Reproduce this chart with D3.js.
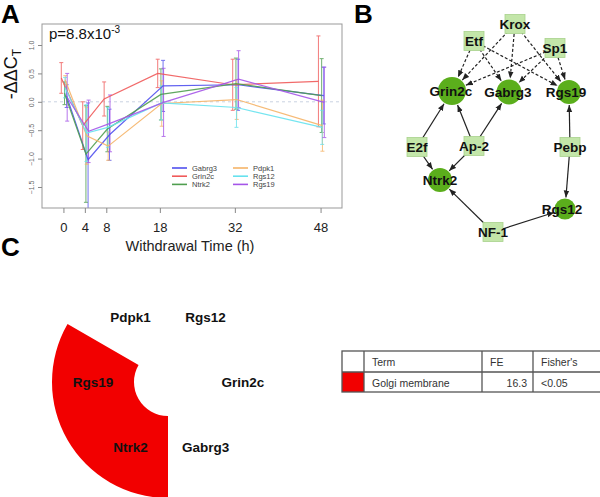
<!DOCTYPE html>
<html><head><meta charset="utf-8">
<script src="https://cdn.jsdelivr.net/npm/d3@7"></script>
<style>body{margin:0;background:#fff}svg{display:block;font-family:"Liberation Sans",Arial,sans-serif}</style>
</head><body><svg id="c" width="600" height="497"></svg>
<script>
// ---------- Panel A data ----------
const times = [0, 4, 8, 18, 32, 48];
const seriesNames = ["Gabrg3", "Grin2c", "Ntrk2", "Pdpk1", "Rgs12", "Rgs19"];
const gabrg3 = [0.10, -1.02, -0.58, 0.28, 0.30, 0.11];
const grin2c = [0.42, -0.42, 0.05, 0.50, 0.30, 0.36];
const ntrk2  = [0.15, -0.92, -0.48, 0.13, 0.32, 0.11];
const pdpk1  = [0.38, -0.60, -0.78, -0.03, 0.04, -0.42];
const rgs12  = [0.25, -0.55, -0.45, -0.02, -0.10, -0.45];
const rgs19  = [0.08, -0.52, -0.38, -0.01, 0.40, -0.01];
const errGabrg3 = [0.20, 1.00, 0.45, 0.45, 0.45, 0.50];
const errGrin2c = [0.27, 0.42, 0.30, 0.25, 0.45, 0.80];
const errNtrk2  = [0.20, 0.85, 0.40, 0.45, 0.45, 0.65];
const errPdpk1  = [0.08, 0.50, 0.25, 0.40, 0.35, 0.45];
const errRgs12  = [0.18, 0.50, 0.35, 0.30, 0.35, 0.30];
const errRgs19  = [0.42, 0.55, 0.50, 0.60, 0.50, 0.62];
const yTicks = [-1.5, -1.0, -0.5, 0.0, 0.5, 1.0];

// ---------- Panel B data ----------
const tfNodes = ["Krox", "Etf", "Sp1", "E2f", "Ap-2", "Pebp", "NF-1"];
const geneNodes = ["Grin2c", "Gabrg3", "Rgs19", "Ntrk2", "Rgs12"];
const dashedEdges = [["Krox","Grin2c"],["Krox","Gabrg3"],["Krox","Rgs19"],
  ["Etf","Grin2c"],["Etf","Gabrg3"],["Etf","Rgs19"],
  ["Sp1","Grin2c"],["Sp1","Gabrg3"],["Sp1","Rgs19"]];
const solidEdges = [["E2f","Grin2c"],["E2f","Ntrk2"],["Ap-2","Grin2c"],["Ap-2","Gabrg3"],
  ["Ap-2","Ntrk2"],["Pebp","Rgs19"],["Pebp","Rgs12"],["NF-1","Ntrk2"],["NF-1","Rgs12"]];

// ---------- Panel C data ----------
const pieGenes = ["Rgs12", "Grin2c", "Gabrg3", "Ntrk2", "Rgs19", "Pdpk1"];
const golgiGenes = ["Ntrk2", "Rgs19"];
const tableHeader = ["", "Term", "FE", "Fisher's"];
const tableRow = ["", "Golgi membrane", "16.3", "<0.05"];

// ---------- styles / layout ----------
const seriesValues = [gabrg3, grin2c, ntrk2, pdpk1, rgs12, rgs19];
const seriesErr = [errGabrg3, errGrin2c, errNtrk2, errPdpk1, errRgs12, errRgs19];
const colors = ["#5050ee", "#f05a5a", "#4f9e4f", "#f5b468", "#66e2ee", "#a555e8"];
const offsets = [0.6, -0.4, 0.2, 0.35, 0.3, 0.7];

const svg = d3.select("#c");
const font = "Liberation Sans, Arial, sans-serif";

// Panel letters
[["A",1,23],["B",354,23],["C",1,256]].forEach(([t,x,y]) =>
  svg.append("text").attr("x",x).attr("y",y).attr("font-size",26).attr("font-weight","bold").text(t));

// ===== Panel A =====
const L=42, R=342, T=24, B=208;
const x = d3.scaleLinear().domain([-4, 52]).range([L, R]);
const y = d3.scaleLinear().domain([-1.87, 1.37]).range([B, T]);
const gA = svg.append("g");
gA.append("clipPath").attr("id","clipA").append("rect").attr("x",L).attr("y",T).attr("width",R-L).attr("height",B-T);
gA.append("line").attr("x1",L).attr("x2",R).attr("y1",y(0)).attr("y2",y(0))
  .attr("stroke","#c9d2e2").attr("stroke-dasharray","3,3");
const plot = gA.append("g").attr("clip-path","url(#clipA)");
seriesNames.forEach((n,i) => {
  const pts = times.map((t,j)=>({t, v:seriesValues[i][j], e:seriesErr[i][j]}));
  const px = d => x(d.t + offsets[i]);
  const eg = plot.append("g").attr("stroke",colors[i]).attr("stroke-width",1).attr("opacity",0.8);
  pts.forEach(d => {
    eg.append("line").attr("x1",px(d)).attr("x2",px(d)).attr("y1",y(d.v-d.e)).attr("y2",y(d.v+d.e));
    [d.v-d.e, d.v+d.e].forEach(v => eg.append("line").attr("x1",px(d)-2).attr("x2",px(d)+2).attr("y1",y(v)).attr("y2",y(v)));
  });
});
seriesNames.forEach((n,i) => {
  const pts = times.map((t,j)=>({t, v:seriesValues[i][j]}));
  plot.append("path").datum(pts)
    .attr("d", d3.line().x(d=>x(d.t+offsets[i])).y(d=>y(d.v)))
    .attr("fill","none").attr("stroke",colors[i]).attr("stroke-width",1.2).attr("opacity",0.9);
});
gA.append("rect").attr("x",L).attr("y",T).attr("width",R-L).attr("height",B-T)
  .attr("fill","none").attr("stroke","#999");
// y axis
const yAx = gA.append("g").attr("transform",`translate(${L},0)`)
  .call(d3.axisLeft(y).tickValues(yTicks).tickSize(4).tickFormat(d3.format(".1f")));
yAx.select(".domain").remove();
yAx.selectAll("line").attr("stroke","#888");
yAx.selectAll(".tick text").attr("font-size",7).attr("fill","#666").attr("font-family",font)
  .attr("transform","rotate(-90)").attr("x",0).attr("y",-8).attr("dy","0").attr("text-anchor","middle");
// x axis
const xAx = gA.append("g").attr("transform",`translate(0,${B})`)
  .call(d3.axisBottom(x).tickValues(times).tickSize(5).tickFormat(d3.format("d")));
xAx.select(".domain").remove();
xAx.selectAll("line").attr("stroke","#888");
xAx.selectAll("text").attr("font-size",13).attr("fill","#222").attr("font-family",font).attr("y",15).attr("dy","0.71em");
// labels
gA.append("text").attr("x",190).attr("y",251).attr("text-anchor","middle").attr("font-size",14.5).attr("fill","#222")
  .text("Withdrawal Time (h)");
const yl = gA.append("text").attr("transform","translate(17,74) rotate(-90)").attr("text-anchor","middle")
  .attr("font-size",18).attr("fill","#111");
yl.append("tspan").text("-ΔΔC");
yl.append("tspan").attr("font-size",12).attr("dy",4).text("T");
const pl = gA.append("text").attr("x",49).attr("y",39).attr("font-size",15).attr("fill","#111");
pl.append("tspan").text("p=8.8x10");
pl.append("tspan").attr("font-size",10).attr("dy",-6).text("-3");
// legend
seriesNames.forEach((n,i) => {
  const col = Math.floor(i/3), row = i%3;
  const lx = 172 + col*61, ly = 168 + row*8.2;
  gA.append("line").attr("x1",lx).attr("x2",lx+15).attr("y1",ly).attr("y2",ly).attr("stroke",colors[i]).attr("stroke-width",1.6);
  gA.append("text").attr("x",lx+20).attr("y",ly+2.6).attr("font-size",7.5).attr("fill","#444").text(n);
});

// ===== Panel B =====
const pos = {"Krox":[515,24],"Etf":[474,41],"Sp1":[555,48],"Grin2c":[452,91],"Gabrg3":[509,92],
  "Rgs19":[569,92],"E2f":[417,147],"Ap-2":[474,146],"Pebp":[570,147],"Ntrk2":[440,180],
  "Rgs12":[565,209],"NF-1":[493,232]};
const rad = {"Grin2c":14,"Gabrg3":12.5,"Rgs19":12,"Ntrk2":12,"Rgs12":10.5};
const labOff = {"Grin2c":[-1,0],"Gabrg3":[-1,0],"Rgs19":[-3,0],"Ntrk2":[0,0],"Rgs12":[-3,0],
  "Krox":[0,0],"Etf":[0,0],"Sp1":[0,0],"E2f":[0,0],"Ap-2":[0,0],"Pebp":[0,0],"NF-1":[0,0]};
const gB = svg.append("g");
const defs = svg.append("defs");
defs.append("marker").attr("id","arr").attr("viewBox","0 0 10 10").attr("refX",10).attr("refY",5)
  .attr("markerWidth",7).attr("markerHeight",7).attr("markerUnits","userSpaceOnUse").attr("orient","auto")
  .append("path").attr("d","M0,1 L10,5 L0,9 Z").attr("fill","#222");
function edge(s,t,dashed){
  const [x1,y1]=pos[s],[x2,y2]=pos[t];
  const dx=x2-x1, dy=y2-y1, len=Math.hypot(dx,dy);
  const r = (rad[t]||0)+1;
  gB.append("line").attr("x1",x1).attr("y1",y1).attr("x2",x2-dx/len*r).attr("y2",y2-dy/len*r)
    .attr("stroke","#222").attr("stroke-width",1.2)
    .attr("stroke-dasharray",dashed?"3,2":null).attr("marker-end","url(#arr)");
}
dashedEdges.forEach(e=>edge(e[0],e[1],true));
solidEdges.forEach(e=>edge(e[0],e[1],false));
tfNodes.forEach(n=>{
  const [cx,cy]=pos[n];
  gB.append("rect").attr("x",cx-10).attr("y",cy-9.5).attr("width",20).attr("height",19)
    .attr("fill","#c3e6a9").attr("stroke","#a9d28c").attr("stroke-width",0.8);
});
geneNodes.forEach(n=>{
  const [cx,cy]=pos[n];
  gB.append("circle").attr("cx",cx).attr("cy",cy).attr("r",rad[n]).attr("fill","#5bae1c");
});
tfNodes.concat(geneNodes).forEach(n=>{
  const [cx,cy]=pos[n];
  gB.append("text").attr("x",cx+labOff[n][0]).attr("y",cy+5).attr("text-anchor","middle")
    .attr("font-size",13.5).attr("font-weight","bold").attr("fill","#111").text(n);
});

// ===== Panel C =====
const cx0=168, cy0=382;
const gC = svg.append("g").attr("transform",`translate(${cx0},${cy0})`);
const pie = d3.pie().sort(null).value(()=>1);
const arcs = pie(pieGenes);
const hl = arcs.filter(d=>golgiGenes.includes(d.data));
const arcRed = d3.arc().innerRadius(34).outerRadius(116);
gC.append("path").attr("d", arcRed({startAngle:d3.min(hl,d=>d.startAngle), endAngle:d3.max(hl,d=>d.endAngle)}))
  .attr("fill","#f20000");
const arcLab = d3.arc().innerRadius(75).outerRadius(75);
gC.selectAll("text").data(arcs).enter().append("text")
  .attr("transform",d=>`translate(${arcLab.centroid(d)})`).attr("text-anchor","middle").attr("dy","0.36em")
  .attr("font-size",13.5).attr("font-weight","bold").attr("fill","#111").text(d=>d.data);

// table
const tg = svg.append("g");
const colX = [342, 364, 482, 533, 601];
const rowY = [351, 372, 392];
tg.append("rect").attr("x",colX[0]).attr("y",rowY[1]).attr("width",colX[1]-colX[0]).attr("height",rowY[2]-rowY[1]).attr("fill","#f20000");
tg.append("rect").attr("x",colX[0]).attr("y",rowY[0]).attr("width",colX[4]-colX[0]).attr("height",rowY[2]-rowY[0])
  .attr("fill","none").attr("stroke","#555").attr("stroke-width",1.3);
tg.append("line").attr("x1",colX[0]).attr("x2",colX[4]).attr("y1",rowY[1]).attr("y2",rowY[1]).attr("stroke","#555").attr("stroke-width",1.3);
colX.slice(1,4).forEach(cx=>tg.append("line").attr("x1",cx).attr("x2",cx).attr("y1",rowY[0]).attr("y2",rowY[2]).attr("stroke","#555").attr("stroke-width",1.3));
[tableHeader, tableRow].forEach((row,ri)=>{
  row.forEach((t,ci)=>{
    if(!t) return;
    const right = (ri===1 && ci===2);
    tg.append("text").attr("x", right ? colX[ci+1]-6 : colX[ci]+8).attr("y", rowY[ri]+14.5)
      .attr("text-anchor", right?"end":"start").attr("font-size",10.5).attr("fill","#333").text(t);
  });
});
</script></body></html>
